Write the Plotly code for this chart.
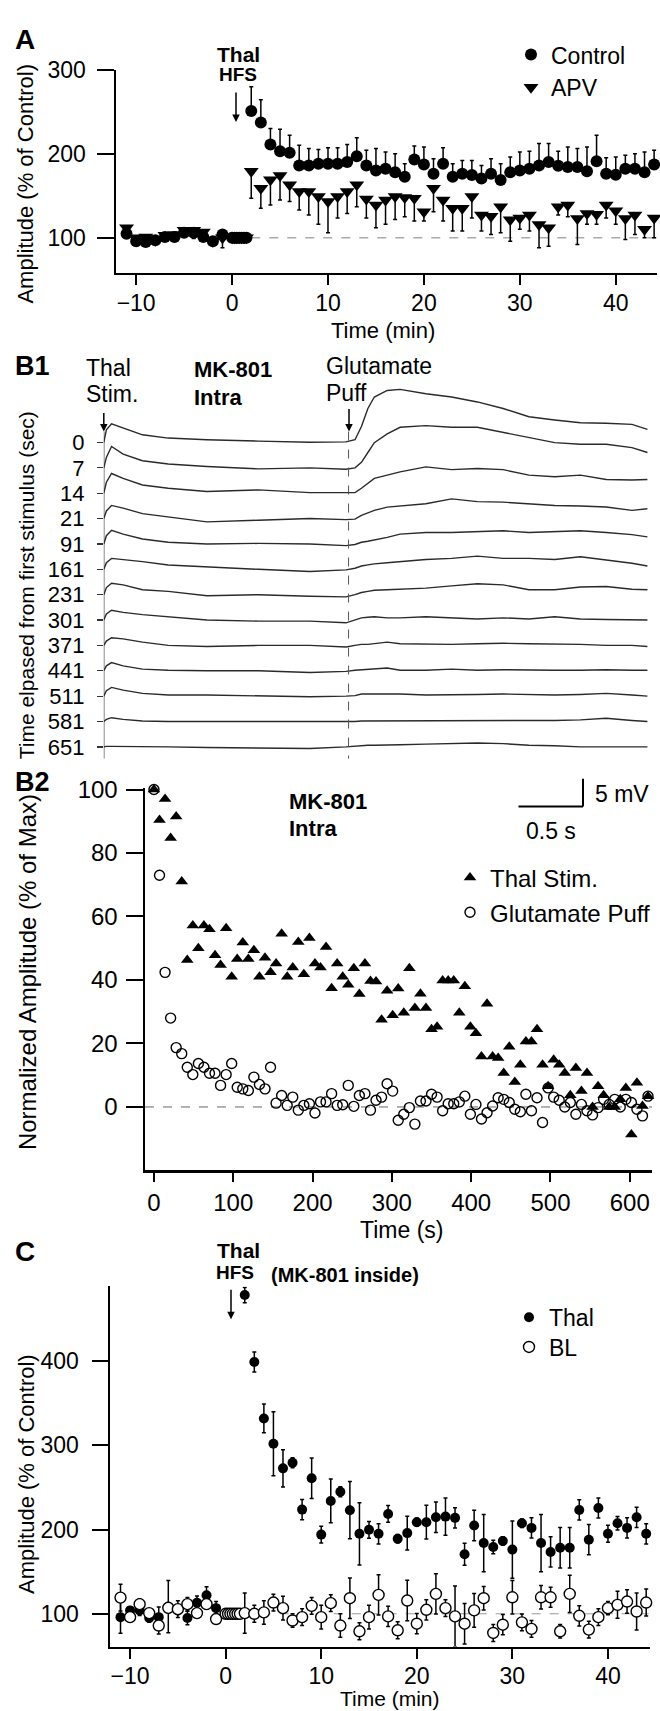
import plotly.graph_objects as go

# ---------------- Panel A data ----------------
a_time = [-11, -10, -9, -8, -7, -6, -5, -4, -3, -2, -1,
          0, 0.25, 0.5, 0.75, 1.0, 1.25, 1.5] + list(range(2, 45))
a_control = [104.7, 96, 95, 97, 101, 101, 106, 106, 101, 96, 104,
             100, 100, 100, 100, 100, 100, 100,
             250.6, 237, 211, 203, 201, 186, 186, 188, 188, 188, 190, 197, 186, 180, 182,
             178, 172.5, 193, 187, 176, 188, 172.5, 176, 174.5, 170.5, 176, 168.6, 178, 180,
             182, 186, 190, 185.5, 184, 184, 179, 191, 176, 175, 182, 182, 178, 187]
a_control_err = [8, 4, 4, 4, 4, 5, 5, 5, 5, 4, 3,
                 0, 0, 0, 0, 0, 0, 0,
                 29, 27, 19, 26, 21, 24, 20, 17, 19, 19, 21, 22, 18, 26, 20, 22, 15.5, 16,
                 21, 18, 19, 15.5, 16, 17.5, 15.5, 18, 19.4, 18, 22, 21, 26, 22, 17.5, 24,
                 22, 29, 31, 19, 21, 16, 18, 24, 17]
a_apv = [112, 100, 101, 97, 103, 104, 109, 109, 107, 96, 100,
         100, 100, 100, 100, 100, 100, 100,
         179, 159, 169, 174, 163, 155, 155, 149, 143, 149, 155, 163, 146, 139, 145, 149,
         148, 147, 131, 159, 145, 135, 135, 149, 127, 125.5, 137, 121.5, 123.5, 127,
         115.7, 112, 137, 139, 123, 129, 128, 139, 132, 123, 127, 110, 123.5]
a_apv_err = [10, 5, 6, 5, 4, 5, 5, 10, 5, 4, 12,
             0, 0, 0, 0, 0, 0, 0,
             32, 24, 30, 29, 20, 22, 28, 33, 37, 25.5, 26, 26, 22.5, 27, 29, 27.4, 23, 27,
             11, 28, 25, 27, 27, 25.5, 19, 21.5, 31, 25.5, 13.5, 19, 27.7, 22, 10, 14, 31,
             13, 12, 15.5, 16, 25, 23, 10, 23.5]

# ---------------- Panel B1 data (traces, mV vs s) ----------------
b1_time = [0, 0.02, 0.06, 0.15, 0.3, 0.5, 0.8, 1.2, 1.6, 1.88, 1.95, 2.0, 2.05, 2.1,
           2.2, 2.3, 2.5, 2.7, 2.9, 3.1, 3.3, 3.5, 3.7, 3.9, 4.1, 4.22]
b1_labels = ["0", "7", "14", "21", "91", "161", "231", "301", "371", "441", "511", "581", "651"]
b1_traces = [
    [0, 2.3, 3.4, 2.6, 1.4, 0.8, 0.5, 0.25, 0.05, 0.1, 0.5, 2.9, 6.2, 8.3, 9.5, 9.7, 8.9, 8.3, 7.4, 6.2, 4.7, 4.1, 3.6, 3.5, 3.3, 2.4],
    [0, 1.9, 3.9, 2.5, 1.3, 0.7, 0.25, -0.2, 0, -0.25, 0, 1.0, 2.8, 4.6, 6.2, 7.4, 7.7, 7.4, 7.4, 6.5, 5.6, 4.6, 4.3, 4.3, 3.7, 2.8],
    [0, 2.0, 3.6, 2.7, 1.5, 0.9, 0.3, 0.6, 0.1, 0, 0.1, 0.9, 1.8, 2.7, 3.3, 3.9, 4.8, 4.3, 4.5, 4.3, 3.3, 3.0, 3.3, 2.5, 2.4, 2.5],
    [0, 1.4, 2.4, 1.9, 0.9, 0.3, -0.6, -0.3, 0, -0.2, -0.1, 0.6, 1.1, 1.5, 2.1, 2.3, 2.7, 3.6, 3.1, 3.0, 2.7, 2.4, 2.3, 2.1, 1.5, 1.8],
    [0, 1.5, 2.5, 1.8, 0.9, 0.3, 0, 0.1, 0, -0.3, -0.1, 0.3, 0.5, 0.7, 1.2, 1.8, 2.1, 2.1, 2.3, 2.4, 2.1, 2.3, 2.4, 2.1, 1.7, 1.3],
    [0, 1.2, 2.0, 1.8, 1.4, 0.8, 0.4, 0, -0.4, -0.1, 0.2, 0.6, 0.8, 1.0, 1.2, 1.4, 1.8, 2.0, 2.4, 2.0, 2.0, 1.8, 2.3, 1.7, 1.1, 0.6],
    [0, 1.3, 2.1, 1.8, 0.9, 0.6, -0.2, 0, -0.3, -0.4, 0, 0.4, 0.6, 0.8, 0.9, 1.0, 1.2, 1.6, 2.0, 1.8, 0.9, 0.9, 1.4, 1.5, 1.0, 0.9],
    [0, 1.1, 1.8, 1.4, 1.0, 0.6, 0, -0.2, -0.2, -0.5, 0.1, 0.4, 0.5, 0.6, 0.4, 0.4, 0.6, 0.4, 0.2, 0.4, 0.2, 0.6, 0.2, 0.1, 0, 0],
    [0, 0.8, 1.4, 1.2, 0.6, 0, -0.2, 0, 0, -0.3, 0, 0.2, 0.2, 0.3, 0.6, 0.3, 0.2, 0.2, 0.3, 0.4, 0.3, 0.3, 0.2, 0, 0, -0.2],
    [0, 0.9, 1.5, 0.9, 0.3, 0.1, 0, 0, -0.3, -0.1, 0.1, 0.2, 0.3, 0.3, 0.5, 0.1, 0.1, 0.3, 0.1, 0.2, 0.1, 0.1, 0.1, 0.2, 0.1, 0.1],
    [0, 1.0, 1.6, 1.1, 0.5, 0.2, 0.2, 0, -0.1, 0, 0.1, 0.4, 0.4, 0.3, 0.3, 0.4, 0.2, 0.2, 0.3, 0.4, 0.3, 0.2, 0.3, 0.5, 0.2, 0],
    [0, 0.4, 0.7, 0.4, 0.1, 0, 0, 0, -0.1, 0, 0, 0.1, 0.1, 0.2, 0.1, 0.1, 0.1, 0.1, 0.2, 0.1, 0.1, 0.2, 0.3, 0.6, 0.2, 0],
    [0, 0.1, 0.1, 0.1, 0.1, 0, -0.1, -0.2, -0.3, 0, 0.1, 0.3, 0.3, 0.3, 0.4, 0.4, 0.5, 0.6, 0.7, 0.6, 0.3, 0.2, 0, 0, 0, 0],
]
b1_stim_time = 0.0
b1_puff_time = 1.9

# ---------------- Panel B2 data ----------------
b2_time = list(range(0, 630, 7))
b2_thal = [100, 90.4, 97, 84.7, 91.5, 71, 46.3, 57.2, 50, 57.2,
           56, 47.8, 44.7, 56.3, 41, 46.6, 51.8, 46.6, 49.4, 41,
           47, 42.4, 45.2, 54.6, 41, 43.9, 52, 41.8, 53.2, 45.2,
           43.9, 50.4, 37.4, 45.2, 41, 38.5, 43.7, 35.6, 45.2, 39.7,
           39.5, 27.5, 36.6, 28.9, 37.3, 29.7, 43.7, 31.2, 35.7, 31.2,
           24.5, 25.3, 39.8, 39.8, 39.8, 29.7, 38, 25.3, 23.2, 15.9,
           32.5, 15.9, 15.4, 10.7, 19, 7.9, 13.3, 20.6, 20.6, 24.5,
           13.3, 6.5, 14.9, 13.3, 10.7, 3.7, 12.3, 5, 10.7, 0,
           6.5, 3.7, 0, 0, 2.4, 6, -8.7, 7.6, 0.3, 3.4]
b2_glut = [100, 73, 42.4, 28, 18.7, 16.8, 12.5, 10.2, 13.7, 12.5,
           10.6, 10.6, 6.8, 10.2, 13.7, 6.2, 5.7, 5.2, 9.4, 7.1,
           5.7, 12.5, 1.2, 3.6, 0.5, 3.1, -1, 0.5, 1, -1.9,
           1.6, 1.6, 4.2, 0.5, 0.7, 6.8, 0.2, 3.6, 4.2, -1,
           2.1, 3.1, 7.3, 5, -4.2, -2.3, -0.2, -5.4, 1.9, 1.9,
           4, 3.1, -1.2, 1, 1, 1.6, 3.4, -2.3, 0.8, -3.8,
           -1.8, 0.3, 2.9, 2.4, 1.4, -0.7, -1.5, 4, -1.2, 2.9,
           -4.9, 6, 3.1, 2.1, 0, 1.4, -2.3, 0.8, -1.2, -2.5,
           -0.2, 2.4, 0.8, 2.4, 0, 2.4, 1.4, -0.7, -2.8, 3.4]

# ---------------- Panel C data ----------------
c_time = [-11, -10, -9, -8, -7, -6, -5, -4, -3, -2, -1,
          0, 0.25, 0.5, 0.75, 1.0, 1.25, 1.5] + list(range(2, 45))
c_thal = [96, 104, 104, 95, 96, 108.6, 104, 95, 113, 122, 106.7,
          100, 100, 100, 100, 100, 100, 100,
          478.5, 399, 332, 302, 272.7, 279.4, 223.7, 261, 194, 234, 245, 223, 195, 199.7,
          195, 218.6, 189, 195.8, 208.8, 208.8, 214.6, 215.4, 213.9, 170.7, 204.8, 184,
          179.3, 186.4, 176.2, 207.6, 202, 184, 173.4, 178.5, 178.5, 223.3, 188, 225.6,
          195, 207.6, 202, 214.6, 195]
c_thal_err = [19, 4, 6, 5, 12, 31, 5, 8, 8, 10, 8,
              0, 0, 0, 0, 0, 0, 0,
              9, 12, 17, 38, 22, 6, 12, 24, 10, 26, 6, 34, 37, 10, 12, 10, 5, 20, 5, 20,
              18, 22, 12, 13, 18, 34, 8, 5, 34, 5, 12, 34, 18, 24, 24, 12, 18, 12, 10, 8,
              12, 12, 12]
c_bl = [119.2, 96, 111.4, 100.8, 86, 107, 105.5, 111.4, 100.8, 111.4, 93.7,
        100, 100, 100, 100, 100, 100, 100,
        100.8, 100, 101.6, 113.3, 106.7, 92, 96, 109.4, 96, 112.6, 86, 118.5, 79.2, 96,
        122.4, 96.9, 80.4, 115.7, 88.2, 104.7, 123.6, 106.7, 96.9, 88.2, 104, 118.5,
        77.2, 87, 119.6, 89.8, 82, 119.6, 119.6, 79.2, 123.6, 97.6, 81.2, 96, 106.7,
        110.6, 114.5, 102.7, 113.3]
c_bl_err = [16, 6, 6, 5, 10, 6, 10, 8, 6, 6, 6,
            0, 0, 0, 0, 0, 0, 0,
            24, 10, 14, 10, 14, 8, 10, 10, 14, 10, 14, 24, 10, 14, 24, 12, 10, 24, 12, 12,
            24, 10, 36, 24, 20, 14, 10, 12, 20, 10, 10, 14, 12, 8, 22, 12, 10, 10, 8, 16,
            14, 22, 16]

# ---------------- layout helpers ----------------
FONT = "Liberation Sans, Arial, Helvetica, sans-serif"
W, H = 660, 1711


def px(x):
    return x / W


def py(y):
    return 1 - y / H


# B1 geometry: 5.52 px per mV, rows 25.58 px apart
PX_PER_MV = 5.52
ROW_MV = 25.58 / PX_PER_MV
B1_TOP, B1_BOT = 370, 752
B1_Y0 = 433  # row 0 baseline (px)
b1_ymax = (B1_Y0 - B1_TOP) / PX_PER_MV
b1_ymin = b1_ymax - (B1_BOT - B1_TOP) / PX_PER_MV
b1_offsets = [-i * ROW_MV for i in range(len(b1_labels))]
b1_line_top = b1_ymax - (422 - B1_TOP) / PX_PER_MV

fig = go.Figure()

err_style = dict(color='black', thickness=1.5, width=2)

# Panel A
fig.add_trace(go.Scatter(
    x=a_time, y=a_apv, mode='markers', name='APV', legend='legend2',
    marker=dict(symbol='triangle-down', size=13, color='black'),
    error_y=dict(type='data', symmetric=False, array=[0] * len(a_apv), arrayminus=a_apv_err, **err_style),
    xaxis='x', yaxis='y', cliponaxis=False))
fig.add_trace(go.Scatter(
    x=a_time, y=a_control, mode='markers', name='Control', legend='legend',
    marker=dict(symbol='circle', size=12, color='black'),
    error_y=dict(type='data', symmetric=False, array=a_control_err, arrayminus=[0] * len(a_control), **err_style),
    xaxis='x', yaxis='y', cliponaxis=False))

# Panel B1
for off, tr in zip(b1_offsets, b1_traces):
    fig.add_trace(go.Scatter(
        x=b1_time, y=[v + off for v in tr], mode='lines', showlegend=False,
        line=dict(color='#2a2a2a', width=1.4), xaxis='x2', yaxis='y2'))

# Panel B2
fig.add_trace(go.Scatter(
    x=b2_time, y=b2_thal, mode='markers', name='Thal Stim.', legend='legend3',
    marker=dict(symbol='triangle-up', size=11, color='black'),
    xaxis='x3', yaxis='y3', cliponaxis=False))
fig.add_trace(go.Scatter(
    x=b2_time, y=b2_glut, mode='markers', name='Glutamate Puff', legend='legend4',
    marker=dict(symbol='circle-open', size=10, color='black', line=dict(width=1.4)),
    xaxis='x3', yaxis='y3', cliponaxis=False))

# Panel C
fig.add_trace(go.Scatter(
    x=c_time, y=c_thal, mode='markers', name='Thal', legend='legend5',
    marker=dict(symbol='circle', size=10, color='black'),
    error_y=dict(type='data', array=c_thal_err, **err_style),
    xaxis='x4', yaxis='y4', cliponaxis=False))
fig.add_trace(go.Scatter(
    x=c_time, y=c_bl, mode='markers', name='BL', legend='legend6',
    marker=dict(symbol='circle', size=11, color='white', line=dict(color='black', width=1.4)),
    error_y=dict(type='data', array=c_bl_err, **err_style),
    xaxis='x4', yaxis='y4', cliponaxis=False))


def ax_common(size=23, **kw):
    d = dict(showline=True, linecolor='black', linewidth=2.5, ticks='outside',
             tickcolor='black', tickwidth=2, showgrid=False, zeroline=False,
             tickfont=dict(size=size, family=FONT, color='black'), ticklabelstandoff=0)
    d.update(kw)
    return d


def leg(mx, my, size=23):
    return dict(x=px(mx - 24), y=py(my), xanchor='left', yanchor='middle',
                xref='paper', yref='paper', bgcolor='rgba(0,0,0,0)', borderwidth=0,
                font=dict(size=size, family=FONT, color='black'))


def txt(s, x, y, size=23, bold=False, xanchor='center', angle=0):
    return dict(text=(f"<b>{s}</b>" if bold else s), x=px(x), y=py(y), xref='paper', yref='paper',
                xanchor=xanchor, yanchor='middle', showarrow=False, textangle=angle,
                font=dict(size=size, family=FONT, color='black'))


def arrow(x, y, length):
    return dict(text='', x=px(x), y=py(y), xref='paper', yref='paper', ax=0, ay=-length,
                showarrow=True, arrowhead=2, arrowsize=1, arrowwidth=1.5, arrowcolor='black')


annotations = [
    # Panel A
    txt('A', 25, 27, size=28, bold=True),
    txt('Thal', 238, 42, size=21, bold=True),
    txt('HFS', 238, 62, size=19, bold=True),
    arrow(236, 110, 31),
    txt('Time (min)', 383, 320, size=22),
    txt('Amplitude (% of Control)', 26, 172, size=22, angle=-90),
    # Panel B1
    txt('B1', 32, 356, size=27, bold=True),
    txt('Thal', 84, 358, size=23, xanchor='left'),
    txt('Stim.', 84, 384, size=23, xanchor='left'),
    txt('MK-801', 192, 359, size=22, bold=True, xanchor='left'),
    txt('Intra', 192, 388, size=22, bold=True, xanchor='left'),
    txt('Glutamate', 324, 356, size=23, xanchor='left'),
    txt('Puff', 324, 383, size=23, xanchor='left'),
    arrow(103.8, 422, 20),
    arrow(349, 422, 24),
    txt('Time elpased from first stimulus (sec)', 26, 577, size=21, angle=-90),
    # Panel B2
    txt('B2', 32, 775, size=27, bold=True),
    txt('MK-801', 287, 795, size=22, bold=True, xanchor='left'),
    txt('Intra', 287, 822, size=22, bold=True, xanchor='left'),
    txt('5 mV', 593, 787, size=23, xanchor='left'),
    txt('0.5 s', 551, 825, size=23),
    txt('Time (s)', 401, 1227, size=23),
    txt('Normalized Amplitude (% of Max)', 27, 967, size=24, angle=-90),
    # Panel C
    txt('C', 25, 1249, size=28, bold=True),
    txt('Thal', 238, 1248, size=21, bold=True),
    txt('HFS', 235, 1270, size=19, bold=True),
    txt('(MK-801 inside)', 345, 1272, size=20, bold=True),
    arrow(231, 1317, 31),
    txt('Time (min)', 390, 1699, size=21),
    txt('Amplitude (% of Control)', 27, 1473, size=22, angle=-90),
]

shapes = [
    # reference lines
    dict(type='line', xref='x', yref='y', x0=2, x1=44.3, y0=100, y1=100,
         line=dict(color='#aaaaaa', width=1.5, dash='dash'), layer='below'),
    dict(type='line', xref='x3', yref='y3', x0=-11.3, x1=628, y0=0, y1=0,
         line=dict(color='#666666', width=1, dash='dash'), layer='below'),
    dict(type='line', xref='x4', yref='y4', x0=0, x1=44.4, y0=100, y1=100,
         line=dict(color='#999999', width=1, dash='dash'), layer='below'),
    # B1 stimulus markers
    dict(type='line', xref='x2', yref='y2', x0=b1_stim_time, x1=b1_stim_time, y0=b1_line_top, y1=b1_ymin,
         line=dict(color='#333333', width=1.2)),
    dict(type='line', xref='x2', yref='y2', x0=b1_puff_time, x1=b1_puff_time, y0=b1_line_top, y1=b1_ymin,
         line=dict(color='#555555', width=1, dash='dash')),
    # scale bar (5 mV, 0.5 s)
    dict(type='line', xref='paper', yref='paper', x0=px(583), x1=px(583), y0=py(772), y1=py(800),
         line=dict(color='black', width=2)),
    dict(type='line', xref='paper', yref='paper', x0=px(518.5), x1=px(583), y0=py(800), y1=py(800),
         line=dict(color='black', width=2)),
]

fig.update_layout(
    width=W, height=H, autosize=False,
    margin=dict(l=0, r=0, t=0, b=0),
    paper_bgcolor='white', plot_bgcolor='white',
    font=dict(family=FONT, color='black'),
    xaxis=ax_common(domain=[px(116), px(657)], range=[-12.1, 44.3], tickvals=[-10, 0, 10, 20, 30, 40],
                    ticklen=10, anchor='y', ticklabelstandoff=-2),
    yaxis=ax_common(domain=[py(262), py(57)], range=[58.3, 300], tickvals=[100, 200, 300],
                    ticklen=17, anchor='x', ticklabelstandoff=6),
    xaxis2=dict(domain=[px(103.8), px(650)], range=[0, 4.24], visible=False, anchor='y2'),
    yaxis2=dict(domain=[py(B1_BOT), py(B1_TOP)], range=[b1_ymin, b1_ymax], anchor='x2',
                showline=False, showgrid=False, zeroline=False, ticks='outside', ticklen=6,
                tickwidth=1.2, tickcolor='#333333', tickvals=b1_offsets, ticktext=b1_labels,
                tickfont=dict(size=22, family=FONT, color='black'), ticklabelstandoff=8),
    xaxis3=ax_common(size=24, domain=[px(145), px(652)], range=[-11.3, 628],
                     tickvals=[0, 100, 200, 300, 400, 500, 600], ticklen=9, anchor='y3'),
    yaxis3=ax_common(size=24, domain=[py(1167), py(781)], range=[-20, 100.6],
                     tickvals=[0, 20, 40, 60, 80, 100], ticklen=17, anchor='x3', ticklabelstandoff=3),
    xaxis4=ax_common(domain=[px(110), px(650)], range=[-12.1, 44.4], tickvals=[-10, 0, 10, 20, 30, 40],
                     ticklen=10, anchor='y4', ticklabelstandoff=-3),
    yaxis4=ax_common(domain=[py(1647), py(1284)], range=[61.1, 488.7], tickvals=[100, 200, 300, 400],
                     ticklen=16, anchor='x4', ticklabelstandoff=8),
    legend=leg(535, 42), legend2=leg(535, 75),
    legend3=leg(474, 872, 24), legend4=leg(474, 907, 24),
    legend5=leg(533, 1315), legend6=leg(533, 1345),
    annotations=annotations, shapes=shapes,
)

fig.write_html("out.html", config={'displayModeBar': False, 'staticPlot': True},
               post_script="document.body.style.margin='0';document.body.style.overflow='hidden';")
